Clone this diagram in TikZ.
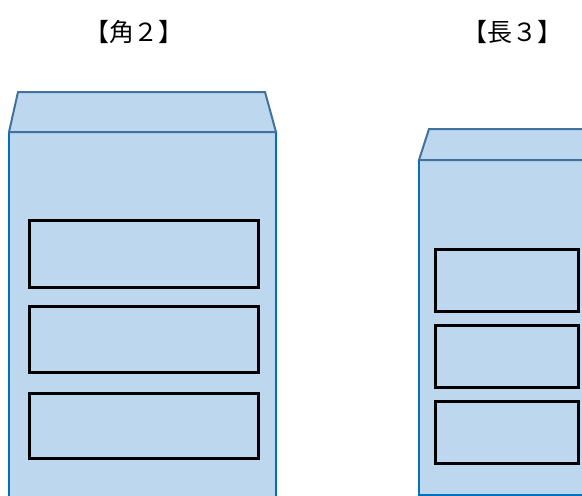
\documentclass[tikz,border=0pt]{standalone}
\usepackage{fontspec}
\usepackage{tikz}
\usepackage{xcolor}
\usetikzlibrary{positioning}
\newfontfamily\jpfont{Noto Sans CJK JP}
\definecolor{envfill}{HTML}{BDD7EE}
\definecolor{envside}{HTML}{0070C0}
\definecolor{envflap}{HTML}{41719C}
\tikzset{
  body/.style={fill=envfill,draw=envside,line width=2pt},
  flap/.style={fill=envfill,draw=envflap,line width=2pt,line join=miter},
  addrbox/.style={draw=black,line width=2.7pt,fill=none,inner sep=0pt,anchor=north west},
  title/.style={font=\jpfont\fontsize{25}{30}\selectfont,inner sep=0pt}
}
\begin{document}
\begin{tikzpicture}[x=1pt,y=-1pt]
    \clip (0,0) rectangle (582,496);
    \fill[white] (0,0) rectangle (582,496);
    \node[title] (kaku) at (134,32) {【角２】};
    \node[title] (naga) at (512,32) {【長３】};

    \draw[body] (9,132) rectangle (276,520);
    \draw[flap] (9,132) -- (18,92) -- (265,92) -- (276,132) -- cycle;
    \foreach \y/\h [count=\i] in {219/67,305/66,392/65}
        \node[addrbox,minimum width=229pt,minimum height=\h pt] (kbox\i) at (28,\y) {};

    \draw[body] (419,160) rectangle (620,495);
    \draw[flap] (419,160) -- (429,129) -- (620,129) -- (620,160) -- cycle;
    \foreach \y [count=\i] in {248,324,400}
        \node[addrbox,minimum width=143pt,minimum height=62pt] (nbox\i) at (434,\y) {};
\end{tikzpicture}
\end{document}
